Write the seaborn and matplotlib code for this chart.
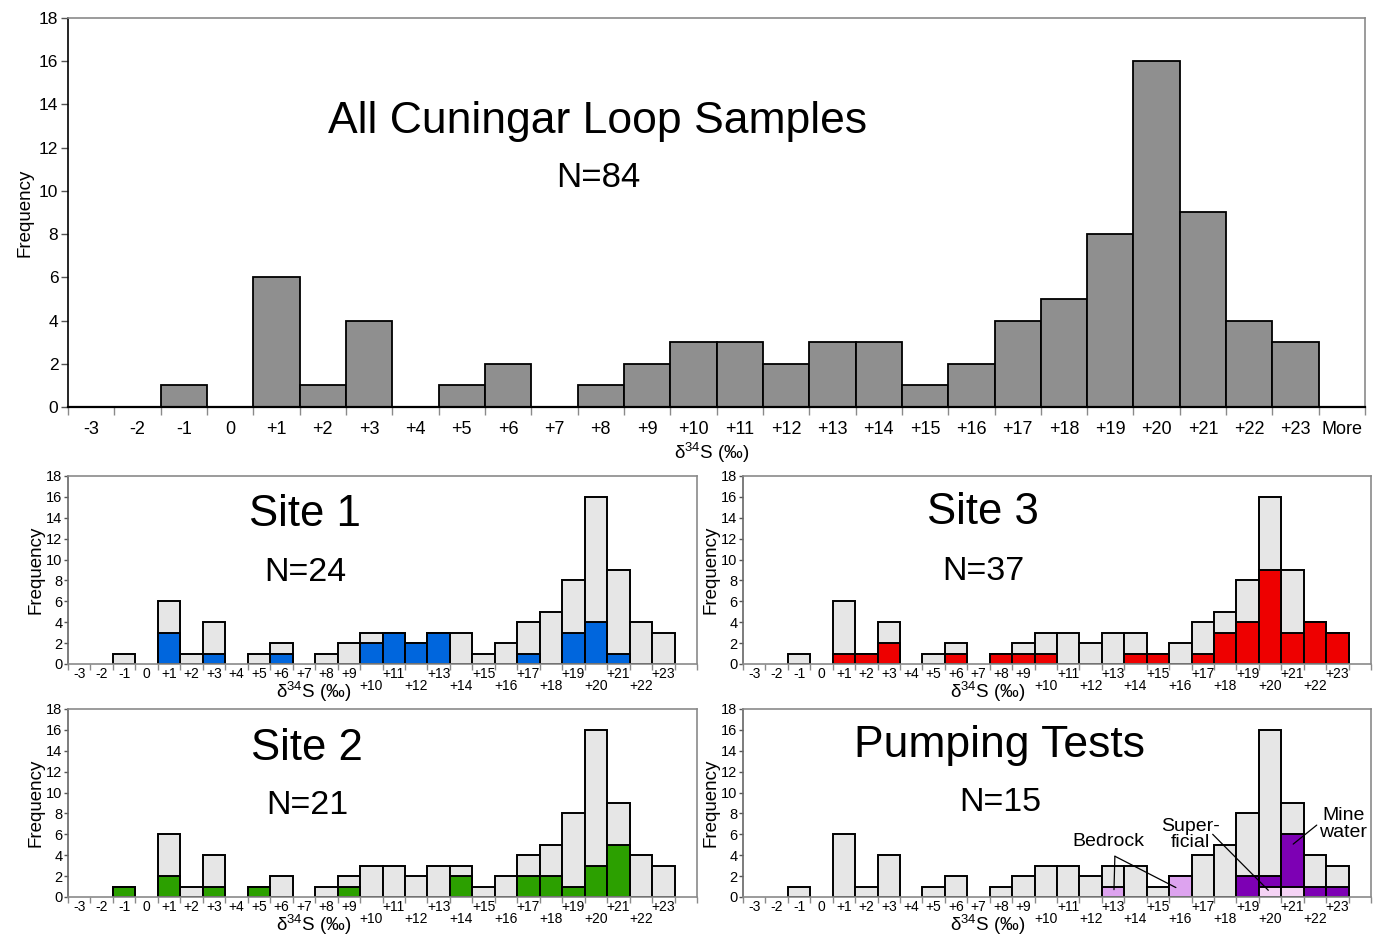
import matplotlib
matplotlib.use("Agg")
import numpy as np
import pandas as pd
import seaborn as sns
import matplotlib.pyplot as plt
import matplotlib.transforms as mtrans

# ---- data: d34S bins (permil) and counts ----
bins = ["-3", "-2", "-1", "0"] + [f"+{i}" for i in range(1, 24)] + ["More"]

all_counts = [0, 0, 1, 0, 6, 1, 4, 0, 1, 2, 0, 1, 2, 3, 3, 2, 3, 3, 1, 2, 4, 5, 8, 16, 9, 4, 3, 0]
site1_counts = [0, 0, 0, 0, 3, 0, 1, 0, 0, 1, 0, 0, 0, 2, 3, 2, 3, 0, 0, 0, 1, 0, 3, 4, 1, 0, 0, 0]
site3_counts = [0, 0, 0, 0, 1, 1, 2, 0, 0, 1, 0, 1, 1, 1, 0, 0, 0, 1, 1, 0, 1, 3, 4, 9, 3, 4, 3, 0]
site2_counts = [0, 0, 1, 0, 2, 0, 1, 0, 1, 0, 0, 0, 1, 0, 0, 0, 0, 2, 0, 0, 2, 2, 1, 3, 5, 0, 0, 0]
bedrock_counts = [0] * 16 + [1, 0, 0, 2] + [0] * 8
superficial_counts = [0] * 23 + [1, 1, 0, 0, 0]
mine_counts = [0] * 22 + [2, 1, 5, 1, 1, 0]

lower_row = [f"+{i}" for i in range(10, 23, 2)]  # labels staggered down in small panels

sns.set_theme(style="white")
plt.rcParams["font.family"] = ["Liberation Sans", "DejaVu Sans"]
plt.rcParams["mathtext.fontset"] = "custom"
plt.rcParams["mathtext.rm"] = "Liberation Sans"
plt.rcParams["mathtext.it"] = "Liberation Sans:italic"
for key in ["text.color", "axes.labelcolor", "xtick.color", "ytick.color"]:
    plt.rcParams[key] = "black"

XLABEL = "δ$^{34}$S (‰)"


def draw_bars(ax, counts, color, lw):
    df = pd.DataFrame({"bin": bins, "n": counts})
    df = df[df["n"] > 0]
    sns.barplot(data=df, x="bin", y="n", order=bins, color=color, saturation=1,
                width=1, edgecolor="black", linewidth=lw, errorbar=None, ax=ax)


def style_axes(ax, big):
    ax.set_xlim(-0.5, len(bins) - 0.5)
    ax.set_ylim(0, 18)
    ax.set_yticks(range(0, 19, 2))
    ax.set_ylabel("Frequency", fontsize=13.5, labelpad=4 if big else 1)
    ax.set_xlabel("")
    for s in ax.spines.values():
        s.set_visible(True)
        s.set_color("#8a8a8a")
        s.set_linewidth(1.2)
    if big:
        ax.spines["left"].set_color("black")
        ax.spines["bottom"].set_color("black")
        ax.spines["bottom"].set_linewidth(1.6)
        labels = bins
    else:
        ax.spines["left"].set_color("#666666")
        labels = bins[:-1] + [""]
    ax.set_xticks(range(len(bins)), labels=labels)
    ax.set_xticks(np.arange(-0.5, len(bins), 1), minor=True)
    ax.tick_params(axis="x", which="major", length=0, pad=10 if big else 2,
                   labelsize=13 if big else 10)
    ax.tick_params(axis="x", which="minor", bottom=True, length=6 if big else 4,
                   color="#8a8a8a", width=1)
    ax.tick_params(axis="y", left=True, length=5 if big else 3, width=1,
                   color="#555555", labelsize=12.5 if big else 10.5, pad=2 if big else 1)
    if not big:
        shift = mtrans.ScaledTranslation(0, -12 / 100, ax.figure.dpi_scale_trans)
        for lab in ax.get_xticklabels():
            if lab.get_text() in lower_row:
                lab.set_transform(lab.get_transform() + shift)


fig = plt.figure(figsize=(13.8, 9.41), dpi=100)
ax_all = fig.add_axes([0.0493, 0.5675, 0.9399, 0.4134])
ax_s1 = fig.add_axes([0.0493, 0.2944, 0.4558, 0.1998])
ax_s3 = fig.add_axes([0.5384, 0.2944, 0.4551, 0.1998])
ax_s2 = fig.add_axes([0.0493, 0.0468, 0.4558, 0.1998])
ax_pt = fig.add_axes([0.5384, 0.0468, 0.4551, 0.1998])

GREY_DARK = "#8f8f8f"
GREY_LIGHT = "#e6e6e6"

# top: all samples
draw_bars(ax_all, all_counts, GREY_DARK, 1.3)
style_axes(ax_all, True)
ax_all.text(0.4086, 0.735, "All Cuningar Loop Samples", transform=ax_all.transAxes,
            ha="center", va="center", fontsize=32)
ax_all.text(0.4086, 0.59, "N=84", transform=ax_all.transAxes,
            ha="center", va="center", fontsize=25)
ax_all.text(0.4965, -0.118, XLABEL, transform=ax_all.transAxes,
            ha="center", va="center", fontsize=13.5)

# sites
panels = [
    (ax_s1, site1_counts, "#0066dd", "Site 1", "N=24", (0.377, 0.793, 0.484)),
    (ax_s3, site3_counts, "#ee0000", "Site 3", "N=37", (0.382, 0.803, 0.494)),
    (ax_s2, site2_counts, "#2ca000", "Site 2", "N=21", (0.380, 0.787, 0.484)),
]
for ax, counts, color, title, n_text, (tx, ty, ny) in panels:
    draw_bars(ax, all_counts, GREY_LIGHT, 1.4)
    draw_bars(ax, counts, color, 1.4)
    style_axes(ax, False)
    ax.text(tx, ty, title, transform=ax.transAxes, ha="center", va="center", fontsize=31.5)
    ax.text(tx, ny, n_text, transform=ax.transAxes, ha="center", va="center", fontsize=24.5)
    ax.text(0.39, -0.149, XLABEL, transform=ax.transAxes, ha="center", va="center", fontsize=13.5)

# pumping tests: superficial at the base, mine water stacked above it
mine_stack = [s + m for s, m in zip(superficial_counts, mine_counts)]
draw_bars(ax_pt, all_counts, GREY_LIGHT, 1.4)
draw_bars(ax_pt, mine_stack, "#7d00b4", 1.4)
draw_bars(ax_pt, superficial_counts, "#f5d3f5", 1.4)
draw_bars(ax_pt, bedrock_counts, "#dda3ef", 1.4)
style_axes(ax_pt, False)
ax_pt.text(0.409, 0.808, "Pumping Tests", transform=ax_pt.transAxes, ha="center", va="center", fontsize=32)
ax_pt.text(0.409, 0.50, "N=15", transform=ax_pt.transAxes, ha="center", va="center", fontsize=24.5)
ax_pt.text(0.39, -0.149, XLABEL, transform=ax_pt.transAxes, ha="center", va="center", fontsize=13.5)

line = dict(arrowstyle="-", color="black", lw=0.9, shrinkA=0, shrinkB=0)
ax_pt.text(15.79, 5.28, "Bedrock", ha="center", va="center", fontsize=14)
ax_pt.annotate("", xy=(16.04, 0.7), xytext=(16.08, 3.9), arrowprops=line)
ax_pt.annotate("", xy=(18.8, 0.9), xytext=(16.08, 3.9), arrowprops=line)
ax_pt.text(19.43, 6.0, "Super-\nficial", ha="center", va="center", fontsize=14, linespacing=0.95)
ax_pt.annotate("", xy=(22.92, 0.64), xytext=(20.44, 6.0), arrowprops=line)
ax_pt.text(26.26, 6.98, "Mine\nwater", ha="center", va="center", fontsize=14, linespacing=0.95)
ax_pt.annotate("", xy=(24.03, 5.06), xytext=(25.08, 6.88), arrowprops=line)

fig.savefig("out.png", dpi=100)
